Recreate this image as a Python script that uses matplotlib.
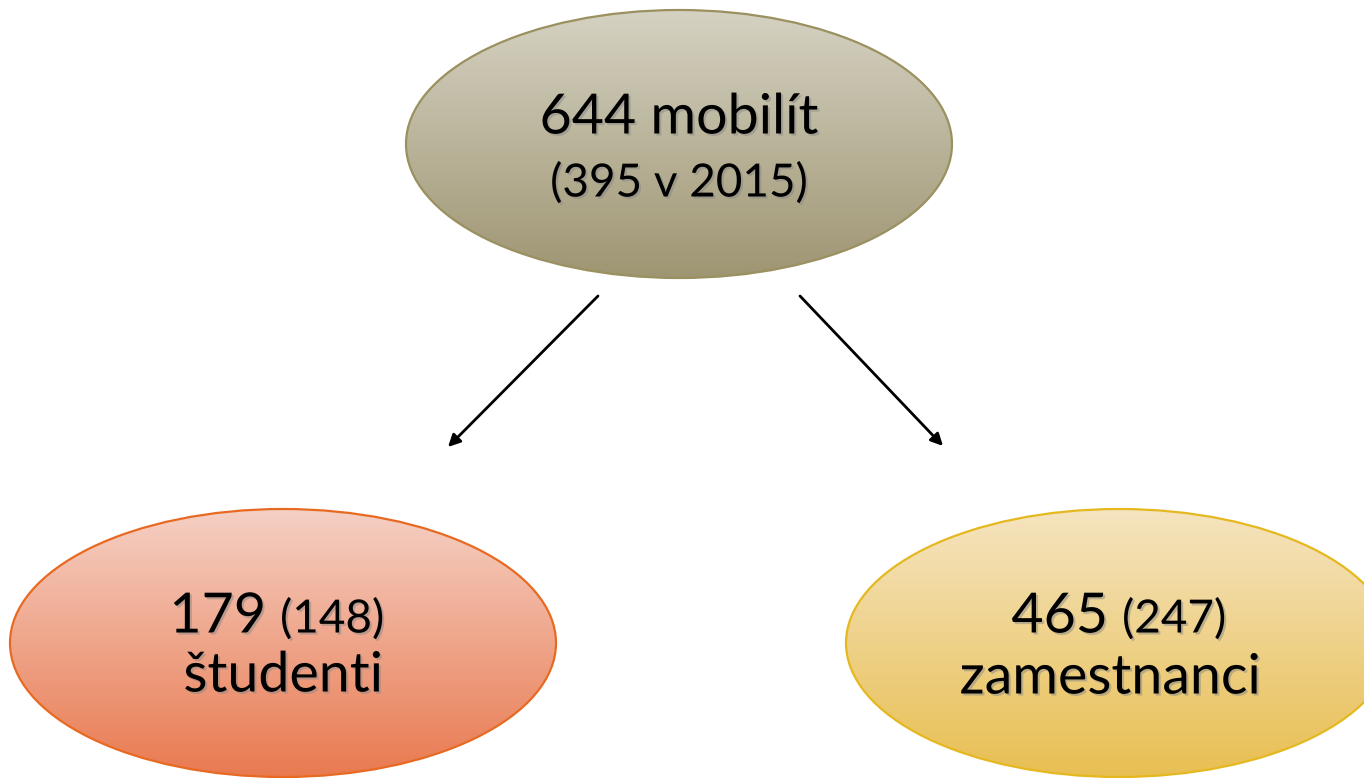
import numpy as np
import matplotlib
matplotlib.use("Agg")
import matplotlib.pyplot as plt
from matplotlib.patches import Ellipse
import matplotlib.patheffects as pe


# =====================================================
# Data
# =====================================================

node_names = ["mobilít", "študenti", "zamestnanci"]
totals_2016 = [644, 179, 465]
totals_2015 = [395, 148, 247]

# gradient top / bottom and outline colours per node
fill_top = ["#d5d2c2", "#f5d0c4", "#f5e4c0"]
fill_bottom = ["#9e9572", "#e97a50", "#e8bf52"]
edge_colors = ["#9a9060", "#e86a22", "#e5b820"]

# ellipse centres (pixels), width, height
centers = [(679, 144), (283, 643), (1119, 643)]
ell_w, ell_h = 546, 268


plt.rcParams["font.family"] = ["Lato", "DejaVu Sans"]

fig = plt.figure(figsize=(13.64, 7.78), dpi=100)
ax = fig.add_axes([0, 0, 1, 1])
ax.set_xlim(0, 1364)
ax.set_ylim(778, 0)
ax.axis("off")

shadow = [pe.withSimplePatchShadow(offset=(1.5, -1.5), shadow_rgbFace="#888888", alpha=0.5)]


def gradient_ellipse(cx, cy, top, bottom, edge):
    e = Ellipse((cx, cy), ell_w, ell_h, facecolor="none",
                edgecolor=edge, linewidth=1.6, zorder=3)
    ax.add_patch(e)
    c1 = np.array(matplotlib.colors.to_rgb(top))
    c2 = np.array(matplotlib.colors.to_rgb(bottom))
    t = np.linspace(0, 1, 256)[:, None]
    img = (c1 * (1 - t) + c2 * t)[:, None, :]
    im = ax.imshow(img, extent=(cx - ell_w / 2, cx + ell_w / 2,
                                cy + ell_h / 2, cy - ell_h / 2),
                   aspect="auto", zorder=2, interpolation="bilinear")
    im.set_clip_path(e)


for i in range(3):
    gradient_ellipse(centers[i][0], centers[i][1],
                     fill_top[i], fill_bottom[i], edge_colors[i])

ax.set_xlim(0, 1364)
ax.set_ylim(778, 0)


# =====================================================
# Texts
# =====================================================

big = 40
small = 33

ax.text(679, 118, f"{totals_2016[0]} {node_names[0]}", fontsize=big,
        ha="center", va="center", zorder=5, path_effects=shadow)
ax.text(679, 183, f"({totals_2015[0]} v 2015)", fontsize=small,
        ha="center", va="center", zorder=5, path_effects=shadow)

# left node
ax.text(266, 617, f"{totals_2016[1]}", fontsize=big,
        ha="right", va="center", zorder=5, path_effects=shadow)
ax.text(280, 619, f"({totals_2015[1]})", fontsize=small,
        ha="left", va="center", zorder=5, path_effects=shadow)
ax.text(283, 676, node_names[1], fontsize=big,
        ha="center", va="center", zorder=5, path_effects=shadow)

# right node
ax.text(1108, 617, f"{totals_2016[2]}", fontsize=big,
        ha="right", va="center", zorder=5, path_effects=shadow)
ax.text(1122, 619, f"({totals_2015[2]})", fontsize=small,
        ha="left", va="center", zorder=5, path_effects=shadow)
ax.text(1110, 678, node_names[2], fontsize=big,
        ha="center", va="center", zorder=5, path_effects=shadow)


# =====================================================
# Arrows
# =====================================================

arrow_style = dict(arrowstyle="-|>", color="black", lw=2,
                   mutation_scale=18, shrinkA=0, shrinkB=0)

ax.annotate("", xy=(448, 447), xytext=(598, 296), arrowprops=arrow_style)
ax.annotate("", xy=(943, 446), xytext=(800, 296), arrowprops=arrow_style)

fig.savefig("out.png", dpi=100)
